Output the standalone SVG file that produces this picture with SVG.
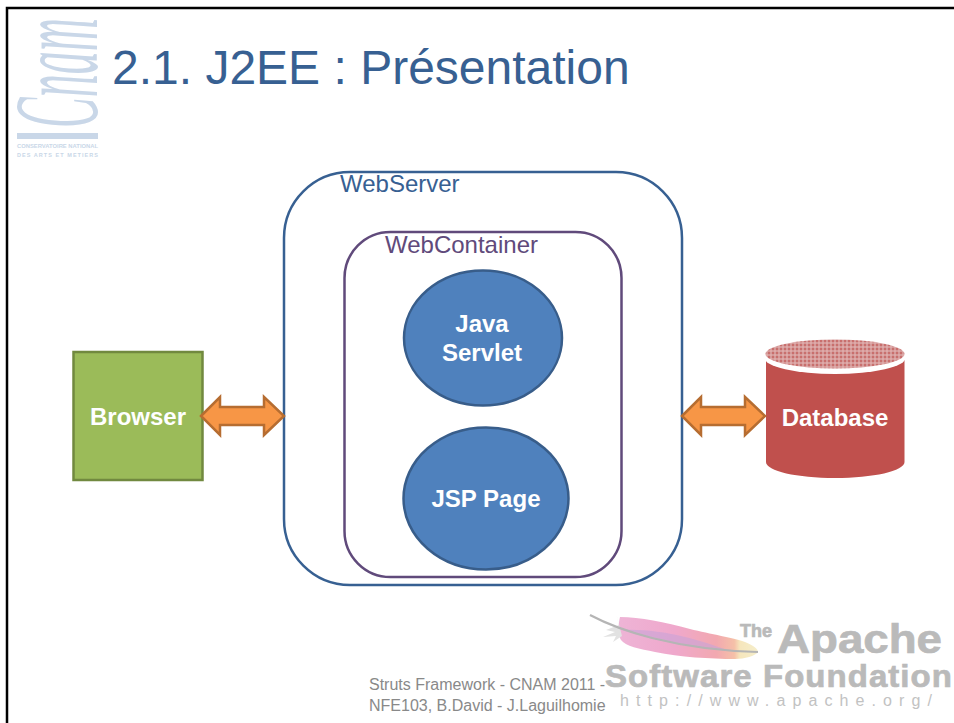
<svg xmlns="http://www.w3.org/2000/svg" width="954" height="723" viewBox="0 0 954 723">
<defs>
<pattern id="dots" width="4" height="4" patternUnits="userSpaceOnUse"><rect width="4" height="4" fill="#d49a99"/><rect width="2" height="2" fill="#c96f6d"/><rect x="2" y="2" width="2" height="2" fill="#dfa9a8"/></pattern>
<linearGradient id="feather" x1="0" y1="0" x2="1" y2="0"><stop offset="0" stop-color="#eeb4d6"/><stop offset=".4" stop-color="#efa8cc"/><stop offset=".7" stop-color="#f2a8b0"/><stop offset=".83" stop-color="#f5c0a8"/><stop offset=".87" stop-color="#f6e6bc"/><stop offset="1" stop-color="#f5eecb"/></linearGradient>
<filter id="soft" x="-10%" y="-10%" width="120%" height="120%"><feGaussianBlur stdDeviation=".5"/></filter>
</defs>
<style>
text{font-family:"Liberation Sans",Arial,sans-serif}
.lbl{font-weight:700;font-size:24px;fill:#fff;text-anchor:middle}
.cap{font-size:24px}
.foot{font-size:16px;fill:#898989}
.arrow{fill:#f79646;stroke:#b66d31;stroke-width:2.5}
.ap{font-weight:700;fill:#bababa;stroke:#bababa;stroke-width:.7}
.logo{fill:#c9d7e8}
</style>
<rect width="954" height="723" fill="#fff"/>
<path d="M7 723V8H954" fill="none" stroke="#000" stroke-width="2.500"/>
<g id="logo">
<text class="logo" transform="translate(97 128) rotate(-90) scale(.5 1.32)" style="font-family:'Liberation Serif',serif;font-style:italic;font-size:92px">Cnam</text>
<rect class="logo" x="17" y="133" width="81" height="6"/>
<text class="logo" x="17" y="148" textLength="81" lengthAdjust="spacingAndGlyphs" style="font-size:5.500px;font-weight:700">CONSERVATOIRE NATIONAL</text>
<text class="logo" x="17" y="157" textLength="81" style="font-size:5.500px;font-weight:700">DES ARTS ET METIERS</text>
</g>
<text id="title" x="112" y="84" font-size="48" fill="#376092">2.1. J2EE : Présentation</text>
<g id="webserver">
<rect x="284" y="172" width="398" height="413" rx="66" fill="#fff" stroke="#376092" stroke-width="2.500"/>
<text class="cap" x="340" y="192" fill="#376092">WebServer</text>
</g>
<g id="webcontainer">
<rect x="344.500" y="232" width="277" height="345" rx="46" fill="#fff" stroke="#604a7b" stroke-width="2.500"/>
<text class="cap" x="385" y="253" fill="#604a7b">WebContainer</text>
</g>
<g id="servlet">
<ellipse cx="483" cy="338" rx="79" ry="67.500" fill="#4f81bd" stroke="#385d8a" stroke-width="2.500"/>
<text class="lbl" x="482" y="332">Java</text>
<text class="lbl" x="482" y="361">Servlet</text>
</g>
<g id="jsp">
<ellipse cx="486" cy="498.500" rx="82.500" ry="71" fill="#4f81bd" stroke="#385d8a" stroke-width="2.500"/>
<text class="lbl" x="486" y="507">JSP Page</text>
</g>
<g id="browser">
<rect x="73.500" y="352" width="129" height="128" fill="#9bbb59" stroke="#71893f" stroke-width="2.500"/>
<text class="lbl" x="138" y="425">Browser</text>
</g>
<g id="database">
<path d="M766 360V462C766 471 797 478 835 478S904.500 471 904.500 462V360Z" fill="#c0504d"/>
<ellipse cx="835" cy="358" rx="70.500" ry="16" fill="#fff"/>
<ellipse cx="835" cy="354" rx="69.500" ry="14.500" fill="url(#dots)"/>
<text class="lbl" x="835" y="426">Database</text>
</g>
<g id="connectors">
<path class="arrow" d="M201 416L220 397V407H264V397L284 416L264 435V425H220V435Z"/>
<path class="arrow" d="M682 416L701 397V407H745V397L765 416L745 435V425H701V435Z"/>
</g>
<g id="footer">
<text class="foot" x="369" y="690">Struts Framework - CNAM 2011 -</text>
<text class="foot" x="369" y="711">NFE103, B.David - J.Laguilhomie</text>
</g>
<g id="apache">
<path d="M620 617C640 617 665 622 690 629C710 634 735 638 745 642C753 645 758 649 758 652C755 656 745 659 735 659C710 659 680 657 655 652C640 649 625 646 621 640C618 635 618 625 620 617Z" fill="url(#feather)" filter="url(#soft)"/>
<path d="M622 630C650 636 690 648 730 651C700 640 660 628 622 630Z" fill="#c9a4d8" opacity=".6" filter="url(#soft)"/>
<path d="M616 613L619 625L606 630L615 632L603 637L616 636L613 642L622 636Z" fill="#e2e2e2" filter="url(#soft)"/>
<path d="M590 615C605 623 625 631 652 638C680 645 720 651 758 652" fill="none" stroke="#b5b5b5" stroke-width="2.200" filter="url(#soft)"/>
<text class="ap" x="740" y="637" style="font-size:18px">The</text>
<text class="ap" x="777" y="653" textLength="165" lengthAdjust="spacingAndGlyphs" style="font-size:41px">Apache</text>
<text class="ap" x="605" y="687" textLength="348" lengthAdjust="spacingAndGlyphs" style="font-size:31px;letter-spacing:1px">Software Foundation</text>
<text x="620" y="706" fill="#c2c2c2" textLength="312" style="font-size:16px">http://www.apache.org/</text>
</g>
</svg>
